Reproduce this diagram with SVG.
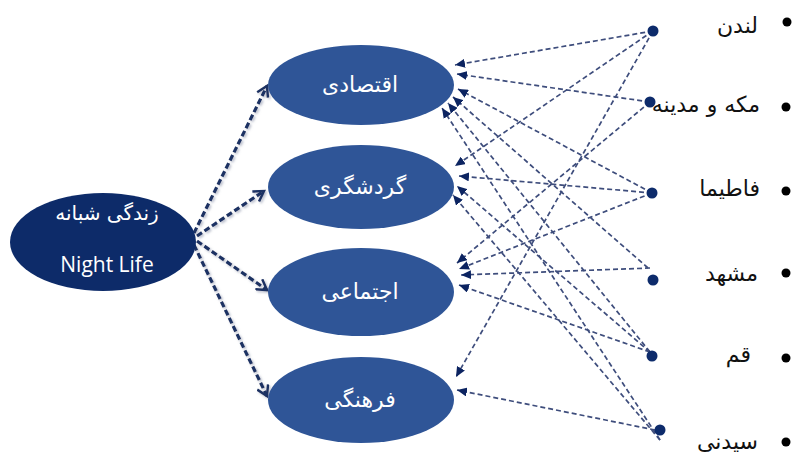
<svg xmlns="http://www.w3.org/2000/svg" width="795" height="459" viewBox="0 0 795 459">
<style>
.mid{fill:#2f5597}
.lbl{font-family:"DejaVu Sans",sans-serif;font-size:22px;fill:#ffffff;text-anchor:middle}
.city{font-family:"DejaVu Sans",sans-serif;font-size:22px;fill:#111111;text-anchor:end}
.thin{stroke:#3e4d7c;stroke-width:1.7;stroke-dasharray:5 3;fill:none;marker-end:url(#tri)}
.thick{stroke:#1c3163;stroke-width:3.2;stroke-dasharray:6 3;fill:none;marker-end:url(#vee)}
.dot{fill:#0d2b6b}
.bul{fill:#000000}
</style>
<defs>
<marker id="tri" markerUnits="userSpaceOnUse" markerWidth="11" markerHeight="9" refX="10" refY="4.5" orient="auto">
<path d="M0,0 L10,4.5 L0,9 z" fill="#0c2461"/>
</marker>
<marker id="vee" markerUnits="userSpaceOnUse" markerWidth="14" markerHeight="14" refX="11" refY="7" orient="auto">
<path d="M1,1 L11,7 L1,13" fill="none" stroke="#1c3163" stroke-width="2.5"/>
</marker>
<filter id="sh" x="-20%" y="-20%" width="140%" height="140%">
<feDropShadow dx="1.5" dy="1.5" stdDeviation="1.2" flood-color="#8890a8" flood-opacity="0.6"/>
</filter>
</defs>

<g id="connectors">
<g id="left-arrows" filter="url(#sh)">
<line class="thick" x1="194" y1="233" x2="267" y2="86"/>
<line class="thick" x1="197" y1="236" x2="264" y2="191"/>
<line class="thick" x1="197" y1="241" x2="267" y2="290"/>
<line class="thick" x1="194" y1="245" x2="267" y2="396"/>
</g>
<g id="right-arrows">
<line class="thin" x1="653" y1="31" x2="455" y2="65"/>
<line class="thin" x1="650" y1="102" x2="457" y2="74"/>
<line class="thin" x1="652" y1="193" x2="458" y2="89"/>
<line class="thin" x1="648" y1="268" x2="453" y2="97"/>
<line class="thin" x1="650" y1="352" x2="448" y2="103"/>
<line class="thin" x1="660" y1="440" x2="442" y2="108"/>
<line class="thin" x1="653" y1="31" x2="455" y2="166"/>
<line class="thin" x1="652" y1="193" x2="459" y2="176"/>
<line class="thin" x1="650" y1="352" x2="457" y2="186"/>
<line class="thin" x1="660" y1="440" x2="453" y2="195"/>
<line class="thin" x1="650" y1="102" x2="457" y2="263"/>
<line class="thin" x1="652" y1="193" x2="459" y2="269"/>
<line class="thin" x1="650" y1="268" x2="461" y2="275"/>
<line class="thin" x1="650" y1="352" x2="459" y2="285"/>
<line class="thin" x1="653" y1="31" x2="456" y2="377"/>
<line class="thin" x1="655" y1="430" x2="457" y2="390"/>
</g>
</g>

<g id="node-nightlife">
<ellipse cx="103" cy="242" rx="93" ry="49" fill="#0d2b69"/>
<text x="107" y="220" class="lbl" style="font-size:20px">زندگی شبانه</text>
<text x="107" y="272" style="font-family:'Open Sans',sans-serif;font-size:21px;fill:#ffffff;text-anchor:middle">Night Life</text>
</g>

<g id="node-eghtesadi">
<ellipse class="mid" cx="361" cy="85" rx="93" ry="40"/>
<text x="360" y="92" class="lbl">اقتصادی</text>
</g>
<g id="node-gardeshgari">
<ellipse class="mid" cx="361" cy="187" rx="93" ry="42"/>
<text x="360" y="194" class="lbl">گردشگری</text>
</g>
<g id="node-ejtemai">
<ellipse class="mid" cx="361" cy="292" rx="93" ry="44"/>
<text x="360" y="299" class="lbl">اجتماعی</text>
</g>
<g id="node-farhangi">
<ellipse class="mid" cx="361" cy="400" rx="93" ry="43"/>
<text x="360" y="407" class="lbl">فرهنگی</text>
</g>

<g id="node-london">
<circle class="dot" cx="653" cy="31" r="5.5"/>
<circle class="bul" cx="787" cy="22" r="4.5"/>
<text x="758" y="33" class="city">لندن</text>
</g>
<g id="node-makkah">
<circle class="dot" cx="650" cy="102" r="5.5"/>
<circle class="bul" cx="786" cy="107" r="4.5"/>
<text x="760" y="112" class="city">مکه و مدینه</text>
</g>
<g id="node-fatima">
<circle class="dot" cx="652" cy="193" r="5.5"/>
<circle class="bul" cx="786" cy="191" r="4.5"/>
<text x="760" y="196" class="city">فاطیما</text>
</g>
<g id="node-mashhad">
<circle class="dot" cx="653" cy="280" r="5.5"/>
<circle class="bul" cx="786" cy="273" r="4.5"/>
<text x="758" y="281" class="city">مشهد</text>
</g>
<g id="node-qom">
<circle class="dot" cx="652" cy="356" r="5.5"/>
<circle class="bul" cx="786" cy="358" r="4.5"/>
<text x="751" y="362" class="city">قم</text>
</g>
<g id="node-sydney">
<circle class="dot" cx="660" cy="430" r="5.5"/>
<circle class="bul" cx="786" cy="442" r="4.5"/>
<text x="758" y="449" class="city">سیدنی</text>
</g>
</svg>
